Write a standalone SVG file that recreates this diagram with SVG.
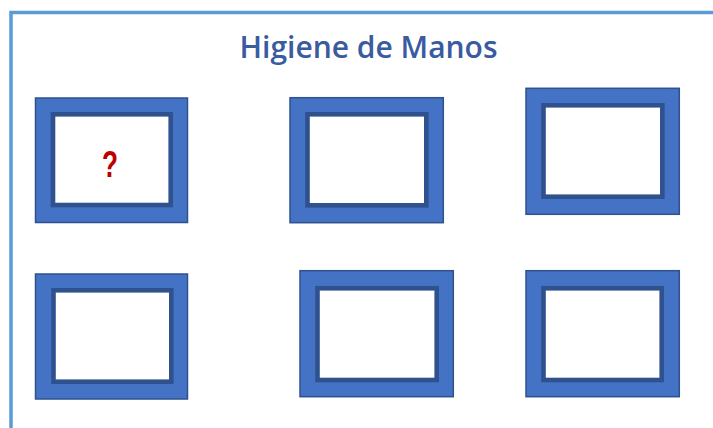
<svg xmlns="http://www.w3.org/2000/svg" width="713" height="428" viewBox="0 0 713 428">
<style>
.outer{fill:#4472c4;stroke:#2f528f;stroke-width:1.5}
.inner{fill:#ffffff;stroke:#2f528f;stroke-width:4.6}
.title{font-family:"Open Sans","Noto Sans","Liberation Sans",sans-serif;font-size:30px;font-weight:600;fill:#3a5ba0}
.q{font-family:"Liberation Sans",Arial,sans-serif;font-weight:bold;font-size:36px;fill:#c00000}
</style>
<rect width="713" height="428" fill="#ffffff"/>
<g id="border">
<path d="M11,428 L11,12.5 L713,12.5" fill="none" stroke="#5b9bd5" stroke-width="3.5"/>
</g>
<g id="title">
<text class="title" x="368.5" y="58" text-anchor="middle" textLength="258" lengthAdjust="spacingAndGlyphs">Higiene de Manos</text>
</g>
<g id="frame1">
<rect class="outer" x="35.5" y="98" width="152" height="124.5"/>
<rect class="inner" x="53" y="114.3" width="117.7" height="90.7"/>
<text class="q" x="110" y="176.5" text-anchor="middle" textLength="16" lengthAdjust="spacingAndGlyphs">?</text>
</g>
<g id="frame2">
<rect class="outer" x="290" y="97.7" width="153.3" height="125"/>
<rect class="inner" x="307.5" y="114.3" width="118.8" height="91"/>
</g>
<g id="frame3">
<rect class="outer" x="526" y="88.3" width="153.3" height="126"/>
<rect class="inner" x="543.5" y="105.3" width="118.8" height="91.4"/>
</g>
<g id="frame4">
<rect class="outer" x="35.5" y="274" width="152" height="125"/>
<rect class="inner" x="53.5" y="290.3" width="117.8" height="91.4"/>
</g>
<g id="frame5">
<rect class="outer" x="300" y="270.7" width="153.3" height="126"/>
<rect class="inner" x="317.5" y="288.3" width="119.2" height="91.7"/>
</g>
<g id="frame6">
<rect class="outer" x="526" y="270.7" width="153.3" height="126"/>
<rect class="inner" x="543.5" y="288.3" width="118.2" height="91.7"/>
</g>
<g id="connectors"></g>
</svg>
